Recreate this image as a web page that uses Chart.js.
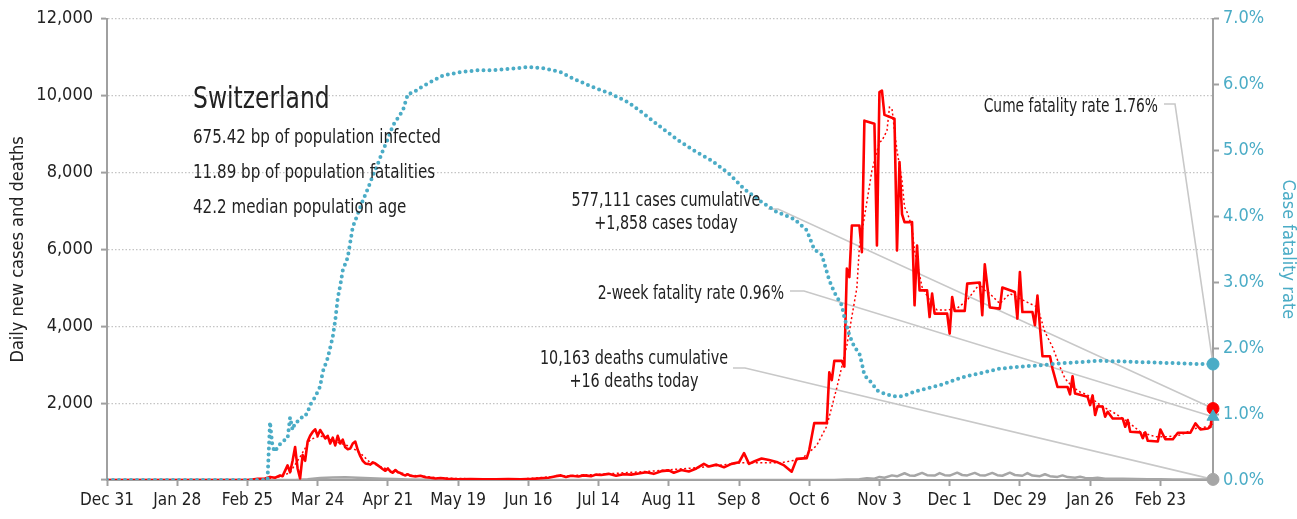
<!DOCTYPE html>
<html>
<head>
<meta charset="utf-8">
<title>Switzerland</title>
<script src="https://cdn.jsdelivr.net/npm/chart.js@4/dist/chart.umd.min.js"></script>
<style>
  html, body { margin: 0; padding: 0; background: #fff; }
  #wrap { width: 1297px; height: 519px; }
</style>
</head>
<body>
<div id="wrap"><canvas id="covidChart" width="1297" height="519"></canvas></div>
<script>
// day 0 = Dec 31 2019
const tickDays = [0, 28, 56, 84, 112, 140, 168, 196, 224, 252, 280, 308, 336, 364, 392, 420];
const tickLabels = ['Dec 31', 'Jan 28', 'Feb 25', 'Mar 24', 'Apr 21', 'May 19', 'Jun 16', 'Jul 14',
  'Aug 11', 'Sep 8', 'Oct 6', 'Nov 3', 'Dec 1', 'Dec 29', 'Jan 26', 'Feb 23'];
const lastDay = 441;

// daily new cases
const caseDays = [0, 56, 58, 60, 63, 65, 67, 69, 70, 72, 73, 74, 75, 76, 77, 78, 79, 80, 81, 82, 83, 84, 85, 86,
  87, 88, 89, 90, 91, 92, 93, 94, 95, 96, 97, 98, 99, 100, 101, 102, 103, 104, 105, 106, 107, 108, 109, 110,
  111, 112, 113, 114, 115, 116, 117, 118, 119, 120, 121, 123, 125, 127, 129, 131, 133, 136, 140, 145, 150,
  155, 160, 165, 170, 173, 176, 179, 181, 183, 185, 188, 190, 193, 195, 197, 200, 203, 206, 209, 212, 215,
  218, 221, 224, 226, 229, 232, 235, 238, 240, 243, 246, 249, 252, 254, 256, 258, 261, 264, 267, 270, 273,
  275, 279, 280, 282, 287, 288, 289, 290, 293, 294, 295, 296, 297, 300, 301, 302, 306, 307, 308, 309, 310,
  314, 315, 316, 317, 318, 321, 322, 323, 324, 327, 328, 329, 330, 335, 336, 337, 338, 342, 343, 348, 349,
  350, 352, 356, 357, 362, 363, 364, 365, 369, 370, 371, 372, 373, 376, 377, 379, 383, 384, 385, 386, 391,
  392, 393, 394, 395, 397, 398, 399, 401, 405, 406, 407, 408, 412, 413, 414, 415, 419, 420, 422, 425, 427,
  432, 434, 436, 439, 440, 441];
const caseValues = [0, 0, 10, 30, 40, 80, 60, 120, 100, 380, 200, 500, 860, 300, 40, 650, 500, 1000, 1150, 1250,
  1320, 1150, 1300, 1200, 1080, 1150, 950, 1100, 900, 1150, 950, 1050, 850, 800, 820, 950, 1000, 780, 620,
  500, 430, 420, 400, 460, 430, 380, 330, 280, 240, 300, 220, 190, 260, 200, 180, 140, 120, 150, 110, 90,
  110, 70, 60, 40, 50, 30, 20, 25, 15, 20, 25, 15, 30, 45, 60, 100, 120, 80, 110, 90, 120, 100, 140, 130,
  160, 110, 150, 140, 170, 200, 160, 230, 250, 190, 260, 220, 300, 420, 350, 400, 330, 420, 460, 700, 420,
  480, 560, 520, 470, 380, 215, 550, 570, 780, 1480, 1480, 2800, 2600, 3100, 3100, 2950, 5500, 5280, 6620,
  6620, 5930, 9350, 9270, 6100, 10090, 10130, 9500, 9400, 5970, 8270, 6920, 6710, 6710, 4545, 6100, 4935,
  4935, 4240, 4850, 4330, 4330, 3810, 4760, 4400, 4400, 5110, 5140, 4290, 5610, 4490, 4460, 5010, 4890,
  4200, 5410, 4370, 4370, 4025, 4800, 3980, 3220, 3220, 2900, 2420, 2420, 2230, 2700, 2250, 2165, 1950,
  2200, 1690, 1920, 1910, 1645, 1775, 1600, 1600, 1385, 1560, 1255, 1240, 1090, 1240, 1020, 1000, 1315,
  1060, 1060, 1230, 1230, 1475, 1315, 1340, 1380, 1858];

// 7-day average of new cases
const avgDays = [0, 60, 64, 70, 73, 77, 81, 85, 91, 97, 101, 105, 113, 121, 133, 150, 165, 180, 197, 217, 237,
  253, 269, 277, 283, 287, 291, 295, 299, 300, 302, 305, 308, 309, 311, 312, 313, 314, 315, 317, 318, 319,
  321, 322, 325, 328, 331, 335, 339, 343, 346, 348, 350, 352, 356, 360, 364, 368, 371, 374, 377, 379, 380,
  382, 385, 388, 391, 396, 402, 407, 412, 418, 423, 428, 434, 439, 441];
const avgValues = [0, 0, 30, 100, 200, 600, 1050, 1150, 1000, 870, 700, 450, 250, 130, 50, 25, 25, 100, 150,
  230, 330, 450, 450, 550, 900, 1400, 2400, 3500, 5000, 6060, 6840, 8050, 8790, 8830, 9090, 9700, 9660,
  9090, 8570, 7790, 7100, 6970, 6580, 5970, 5020, 4680, 4420, 4420, 4470, 4680, 4940, 5110, 4935, 4850,
  4590, 4850, 4720, 4590, 4500, 3850, 3460, 3120, 2940, 2640, 2420, 2290, 2210, 1950, 1730, 1515, 1255,
  1125, 1125, 1170, 1340, 1385, 1450];

// daily deaths
const deathDays = [0, 75, 80, 85, 90, 95, 100, 105, 110, 115, 120, 130, 140, 290, 295, 300, 303, 306, 308, 310,
  313, 315, 318, 320, 322, 325, 327, 330, 332, 334, 336, 339, 341, 343, 346, 348, 350, 353, 355, 357, 360,
  362, 365, 367, 369, 372, 374, 376, 379, 381, 383, 386, 388, 390, 393, 395, 398, 402, 405, 410, 415, 420,
  425, 430, 436, 441];
const deathValues = [0, 0, 20, 50, 65, 70, 60, 45, 35, 25, 15, 5, 2, 3, 10, 20, 45, 35, 80, 60, 120, 95, 175,
  120, 110, 185, 125, 115, 180, 125, 115, 190, 130, 120, 185, 125, 115, 185, 125, 110, 190, 130, 110, 180,
  115, 100, 150, 100, 80, 120, 75, 60, 85, 55, 45, 60, 35, 30, 35, 25, 20, 17, 14, 12, 13, 16];

// case fatality rate, percent
const cfrDays = [0, 64, 65, 66, 67, 68, 70, 72, 73, 74, 75, 77, 78, 79, 80, 81, 83, 84, 85, 86, 88, 90, 91, 92,
  93, 94, 96, 97, 98, 100, 101, 102, 104, 106, 108, 110, 112, 114, 118, 120, 122, 126, 130, 134, 141, 148,
  154, 161, 168, 174, 181, 186, 194, 201, 208, 214, 221, 228, 234, 241, 248, 254, 261, 267, 274, 279, 282,
  285, 287, 288, 290, 293, 294, 296, 298, 300, 301, 302, 305, 307, 310, 314, 317, 322, 327, 333, 338, 343,
  348, 356, 364, 372, 380, 388, 396, 404, 412, 420, 428, 436, 441];
const cfrValues = [0, 0, 0.88, 0.5, 0.43, 0.5, 0.59, 0.63, 0.95, 0.76, 0.87, 0.91, 0.97, 0.97, 1.03, 1.14, 1.26,
  1.34, 1.42, 1.64, 1.85, 2.17, 2.42, 2.76, 2.95, 3.18, 3.38, 3.61, 3.84, 4.04, 4.14, 4.24, 4.42, 4.62, 4.8,
  5.0, 5.18, 5.38, 5.61, 5.86, 5.88, 5.98, 6.06, 6.14, 6.19, 6.22, 6.22, 6.24, 6.27, 6.25, 6.19, 6.09, 5.96,
  5.86, 5.73, 5.56, 5.35, 5.15, 5.0, 4.85, 4.65, 4.42, 4.22, 4.07, 3.96, 3.79, 3.5, 3.42, 3.16, 3.03, 2.85,
  2.65, 2.47, 2.2, 2.02, 1.92, 1.77, 1.59, 1.47, 1.36, 1.31, 1.27, 1.27, 1.34, 1.39, 1.45, 1.52, 1.58, 1.62,
  1.69, 1.72, 1.74, 1.77, 1.79, 1.81, 1.8, 1.79, 1.78, 1.77, 1.76, 1.76];

// headline numbers
const country = 'Switzerland';
const infectedBp = 675.42;
const fatalitiesBp = 11.89;
const medianAge = 42.2;
const casesCumulative = 577111;
const casesToday = 1858;
const deathsCumulative = 10163;
const deathsToday = 16;
const twoWeekRate = 0.96;
const cumeRate = 1.76;

const FONT = "'Liberation Sans Narrow', 'DejaVu Sans Condensed', 'Roboto Condensed', 'Liberation Sans', sans-serif";
const RED = '#ff0000';
const TEAL = '#4bacc6';
const GREY = '#a6a6a6';
const AXIS = '#a0a0a0';
const INK = '#222222';

Chart.defaults.font.family = FONT;
Chart.defaults.color = INK;

const toPoints = (days, values) => days.map((d, i) => ({ x: d, y: values[i] }));
const fmt = n => n.toLocaleString('en-US');

// text squeezed horizontally to get a narrow face
function narrowText(ctx, text, x, y, align, size, squeeze) {
  ctx.save();
  ctx.translate(x, y);
  ctx.scale(squeeze, 1);
  ctx.font = size + 'px ' + FONT;
  ctx.textAlign = align;
  ctx.fillText(text, 0, 0);
  ctx.restore();
}

const notes = {
  id: 'notes',
  beforeDatasetsDraw(chart) {
    const { ctx, scales } = chart;
    const mx = scales.x.getPixelForValue(lastDay);
    const leaders = [
      [768, 209, 778, scales.y.getPixelForValue(casesToday)],
      [790, 291, 804, scales.y2.getPixelForValue(twoWeekRate)],
      [733, 368, 745, scales.y.getPixelForValue(deathsToday)],
      [1164, 104, 1175, scales.y2.getPixelForValue(cumeRate)]
    ];
    ctx.save();
    ctx.strokeStyle = '#c8c8c8';
    ctx.lineWidth = 1.6;
    leaders.forEach(([x0, y0, x1, y1]) => {
      ctx.beginPath();
      ctx.moveTo(x0, y0);
      ctx.lineTo(x1, y0);
      ctx.lineTo(mx, y1);
      ctx.stroke();
    });
    ctx.restore();
  },
  afterDraw(chart) {
    const ctx = chart.ctx;
    ctx.save();
    ctx.fillStyle = INK;
    ctx.textBaseline = 'alphabetic';
    narrowText(ctx, country, 193, 108, 'left', 31, 0.84);
    narrowText(ctx, infectedBp.toFixed(2) + ' bp of population infected', 193, 143, 'left', 20, 0.84);
    narrowText(ctx, fatalitiesBp.toFixed(2) + ' bp of population fatalities', 193, 178, 'left', 20, 0.84);
    narrowText(ctx, medianAge.toFixed(1) + ' median population age', 193, 213, 'left', 20, 0.84);

    narrowText(ctx, fmt(casesCumulative) + ' cases cumulative', 666, 206, 'center', 19, 0.84);
    narrowText(ctx, '+' + fmt(casesToday) + ' cases today', 666, 229, 'center', 19, 0.84);
    narrowText(ctx, fmt(deathsCumulative) + ' deaths cumulative', 634, 364, 'center', 19, 0.84);
    narrowText(ctx, '+' + fmt(deathsToday) + ' deaths today', 634, 387, 'center', 19, 0.84);

    narrowText(ctx, '2-week fatality rate ' + twoWeekRate.toFixed(2) + '%', 784, 299, 'right', 19, 0.82);
    narrowText(ctx, 'Cume fatality rate ' + cumeRate.toFixed(2) + '%', 1158, 112, 'right', 19, 0.81);
    ctx.restore();
  }
};

const ctx = document.getElementById('covidChart').getContext('2d');

new Chart(ctx, {
  type: 'line',
  data: {
    datasets: [
      {
        label: 'Cume fatality rate',
        data: [{ x: lastDay, y: cumeRate }],
        yAxisID: 'y2', showLine: false, clip: false, order: 0,
        pointStyle: 'circle', pointRadius: 6, backgroundColor: TEAL, borderColor: TEAL
      },
      {
        label: '2-week fatality rate',
        data: [{ x: lastDay, y: twoWeekRate }],
        yAxisID: 'y2', showLine: false, clip: false, order: 0,
        pointStyle: 'triangle', pointRadius: 7, backgroundColor: TEAL, borderColor: TEAL
      },
      {
        label: 'Cases today',
        data: [{ x: lastDay, y: casesToday }],
        yAxisID: 'y', showLine: false, clip: false, order: 0,
        pointStyle: 'circle', pointRadius: 6, backgroundColor: RED, borderColor: RED
      },
      {
        label: 'Deaths today',
        data: [{ x: lastDay, y: deathsToday }],
        yAxisID: 'y', showLine: false, clip: false, order: 0,
        pointStyle: 'circle', pointRadius: 6, backgroundColor: GREY, borderColor: GREY
      },
      {
        label: 'Case fatality rate',
        data: toPoints(cfrDays, cfrValues),
        yAxisID: 'y2', order: 1,
        borderColor: TEAL, borderWidth: 4, borderDash: [0, 6], borderCapStyle: 'round',
        pointRadius: 0, tension: 0
      },
      {
        label: '7-day average',
        data: toPoints(avgDays, avgValues),
        yAxisID: 'y', order: 2,
        borderColor: RED, borderWidth: 1.5, borderDash: [2, 2.5],
        pointRadius: 0, tension: 0
      },
      {
        label: 'Daily new cases',
        data: toPoints(caseDays, caseValues),
        yAxisID: 'y', order: 3,
        borderColor: RED, borderWidth: 2.6, borderJoinStyle: 'round',
        pointRadius: 0, tension: 0
      },
      {
        label: 'Daily deaths',
        data: toPoints(deathDays, deathValues),
        yAxisID: 'y', order: 4,
        borderColor: GREY, borderWidth: 2.5, borderJoinStyle: 'round',
        pointRadius: 0, tension: 0
      }
    ]
  },
  options: {
    responsive: false,
    animation: false,
    layout: { padding: { top: 18, right: 0, bottom: 0, left: 0 } },
    plugins: { legend: { display: false }, tooltip: { enabled: false } },
    scales: {
      x: {
        type: 'linear',
        min: 0,
        max: lastDay,
        afterBuildTicks: scale => { scale.ticks = tickDays.map(v => ({ value: v })); },
        afterFit: scale => { scale.height = 39; },
        ticks: {
          autoSkip: false, maxRotation: 0, padding: 4,
          font: { size: 17 },
          callback: value => tickLabels[tickDays.indexOf(value)]
        },
        grid: { drawOnChartArea: false, tickLength: 6, tickColor: AXIS, tickWidth: 2 },
        border: { color: AXIS, width: 2 }
      },
      y: {
        position: 'left',
        min: 0,
        max: 12000,
        afterFit: scale => { scale.width = 107; },
        ticks: {
          stepSize: 2000, padding: 8,
          font: { size: 18 },
          callback: v => (v === 0 ? '' : fmt(v))
        },
        grid: { color: '#c4c4c4', lineWidth: 1.2, tickLength: 6, tickColor: AXIS, tickWidth: 2 },
        border: { color: AXIS, width: 2, dash: [1.5, 2] },
        title: {
          display: true, text: 'Daily new cases and deaths',
          font: { size: 18, lineHeight: 1 }, padding: 9, color: INK
        }
      },
      y2: {
        position: 'right',
        min: 0,
        max: 7,
        afterFit: scale => { scale.width = 84; },
        ticks: {
          stepSize: 1, padding: 4, color: TEAL,
          font: { size: 18 },
          callback: v => v.toFixed(1) + '%'
        },
        grid: { drawOnChartArea: false, tickLength: 6, tickColor: AXIS, tickWidth: 2 },
        border: { color: AXIS, width: 2 },
        title: {
          display: true, text: 'Case fatality rate', color: TEAL,
          font: { size: 18, lineHeight: 1 }, padding: 0
        }
      }
    }
  },
  plugins: [notes]
});
</script>
</body>
</html>
